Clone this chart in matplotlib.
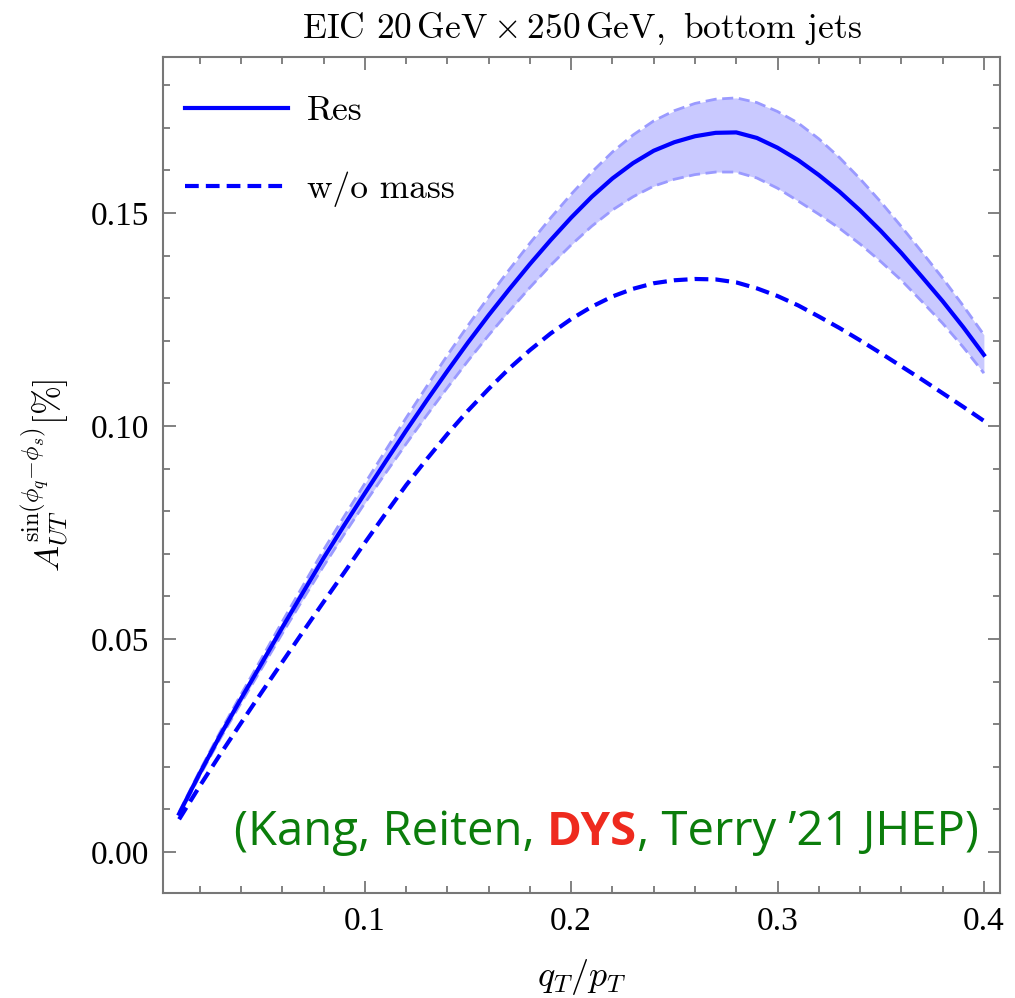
import numpy as np
import matplotlib
matplotlib.use("Agg")
import matplotlib.pyplot as plt

# ---- data ----
x_res = [0.01, 0.02, 0.03, 0.04, 0.05, 0.06, 0.07, 0.08, 0.09, 0.10,
         0.11, 0.12, 0.13, 0.14, 0.15, 0.16, 0.17, 0.18, 0.19, 0.20,
         0.21, 0.22, 0.23, 0.24, 0.25, 0.26, 0.27, 0.28, 0.29, 0.30,
         0.31, 0.32, 0.33, 0.34, 0.35, 0.36, 0.37, 0.38, 0.39, 0.40]
y_res = [0.0090, 0.0185, 0.0275, 0.0360, 0.0443, 0.0527, 0.0609, 0.0690, 0.0767, 0.0842,
         0.0916, 0.0989, 0.1060, 0.1129, 0.1196, 0.1260, 0.1321, 0.1380, 0.1436, 0.1489,
         0.1538, 0.1581, 0.1617, 0.1646, 0.1666, 0.1680, 0.1688, 0.1689, 0.1676, 0.1653,
         0.1624, 0.1589, 0.1550, 0.1506, 0.1458, 0.1406, 0.1350, 0.1293, 0.1232, 0.1167]
y_up = [0.0094, 0.0191, 0.0283, 0.0370, 0.0455, 0.0541, 0.0625, 0.0709, 0.0788, 0.0865,
        0.0942, 0.1019, 0.1093, 0.1166, 0.1236, 0.1303, 0.1367, 0.1429, 0.1488, 0.1544,
        0.1596, 0.1643, 0.1683, 0.1716, 0.1740, 0.1757, 0.1767, 0.1770, 0.1759, 0.1738,
        0.1711, 0.1674, 0.1630, 0.1580, 0.1526, 0.1468, 0.1408, 0.1347, 0.1282, 0.1214]
y_lo = [0.0086, 0.0179, 0.0267, 0.0350, 0.0431, 0.0513, 0.0593, 0.0671, 0.0746, 0.0819,
        0.0889, 0.0958, 0.1025, 0.1090, 0.1153, 0.1213, 0.1270, 0.1325, 0.1377, 0.1425,
        0.1469, 0.1507, 0.1538, 0.1563, 0.1579, 0.1590, 0.1596, 0.1596, 0.1582, 0.1558,
        0.1528, 0.1497, 0.1464, 0.1427, 0.1386, 0.1342, 0.1292, 0.1241, 0.1185, 0.1124]

x_nom = x_res
y_nom = [0.0077, 0.0155, 0.0230, 0.0303, 0.0375, 0.0446, 0.0517, 0.0587, 0.0656, 0.0726,
         0.0794, 0.0861, 0.0922, 0.0981, 0.1036, 0.1087, 0.1135, 0.1178, 0.1217, 0.1251,
         0.1280, 0.1304, 0.1322, 0.1335, 0.1342, 0.1345, 0.1344, 0.1337, 0.1323, 0.1305,
         0.1283, 0.1257, 0.1230, 0.1201, 0.1171, 0.1140, 0.1109, 0.1077, 0.1045, 0.1012]

xticks = [0.1, 0.2, 0.3, 0.4]
xticklabels = ["0.1", "0.2", "0.3", "0.4"]
yticks = [0.00, 0.05, 0.10, 0.15]
yticklabels = ["0.00", "0.05", "0.10", "0.15"]

plt.rcParams['mathtext.fontset'] = 'cm'
plt.rcParams['axes.unicode_minus'] = False

fig = plt.figure(figsize=(10.15, 9.98), dpi=100)
ax = fig.add_axes([0.1606, 0.1052, 0.8246, 0.8377])

blue = '#0000ff'
band_fill = '#c9c9ff'
band_edge = '#9a9aff'

ax.fill_between(x_res, y_lo, y_up, color=band_fill, lw=0, zorder=1)
ax.plot(x_res, y_up, color=band_edge, lw=2.0, ls=(0, (4, 2)), zorder=2)
ax.plot(x_res, y_lo, color=band_edge, lw=2.0, ls=(0, (4, 2)), zorder=2)
l1, = ax.plot(x_res, y_res, color=blue, lw=3.0, zorder=3, label='Res')
l2, = ax.plot(x_nom, y_nom, color=blue, lw=3.0, ls=(0, (3.3, 1.7)), zorder=3, label='w/o mass')

ax.set_xlim(0.0022, 0.4078)
ax.set_ylim(-0.0096, 0.1866)

ax.set_xticks(xticks)
ax.set_xticklabels(xticklabels, fontfamily='Liberation Serif', fontsize=24)
ax.set_yticks(yticks)
ax.set_yticklabels(yticklabels, fontfamily='Liberation Serif', fontsize=24)
ax.set_xticks(np.arange(0.02, 0.41, 0.02), minor=True)
ax.set_yticks(np.arange(0.0, 0.19, 0.01), minor=True)

grey = '#777777'
ax.tick_params(which='both', direction='in', top=True, right=True, color=grey, width=1.3)
ax.tick_params(which='major', length=9, pad=10)
ax.tick_params(which='minor', length=5)
for s in ax.spines.values():
    s.set_color(grey)
    s.set_linewidth(1.5)

ax.set_xlabel(r'$q_T/p_T$', fontsize=26, labelpad=14)
ax.set_ylabel(r'$A_{UT}^{\sin(\phi_q{-}\phi_s)}[\%]$', fontsize=25, labelpad=14)

ax.set_title(r'EIC $20\,\mathrm{GeV}\times 250\,\mathrm{GeV},$ bottom jets',
             fontfamily='cmr10', fontsize=25.5, pad=14)

leg = ax.legend(handles=[l1, l2], loc='upper left', frameon=False,
                prop={'family': 'cmr10', 'size': 25.5}, handlelength=2.9,
                labelspacing=1.25, handletextpad=0.55,
                bbox_to_anchor=(-0.012, 0.992))

# annotation with coloured parts
green = '#0b7d0b'
red = '#ee2a1e'
parts = [("(Kang, Reiten, ", green, 'normal'),
         ("DYS", red, 'bold'),
         (", Terry \u201921 JHEP)", green, 'normal')]
fs = 34
texts = []
for s, c, w in parts:
    t = ax.text(0, 0.057, s, transform=ax.transAxes, color=c, fontweight=w,
                fontsize=fs, fontfamily='Open Sans', va='baseline', ha='left')
    texts.append(t)
fig.canvas.draw()
r = fig.canvas.get_renderer()
widths = [t.get_window_extent(r).width for t in texts]
axbb = ax.get_window_extent(r)
right = 0.975 * axbb.width
total = sum(widths)
xpos = right - total
for t, w in zip(texts, widths):
    t.set_x(xpos / axbb.width)
    xpos += w

fig.savefig('out.png', dpi=100)
